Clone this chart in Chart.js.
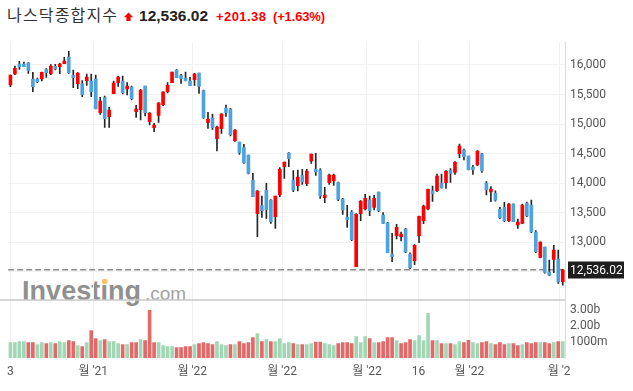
<!DOCTYPE html>
<html lang="ko">
<head>
<meta charset="utf-8">
<title>나스닥종합지수</title>
<script src="https://cdn.jsdelivr.net/npm/chart.js@4.4.1/dist/chart.umd.min.js"></script>
<style>
  html, body { margin: 0; padding: 0; background: #fff; }
  #wrap { position: relative; width: 633px; height: 391px; overflow: hidden; }
  #deco, #chart { position: absolute; left: 0; top: 0; }
</style>
</head>
<body>
<div id="wrap">
  <svg id="deco" width="633" height="391" xmlns="http://www.w3.org/2000/svg">
    <g id="hdr"></g>
    <g id="logo" opacity="0.9">
      <text x="22" y="300" font-family="'Liberation Sans', Arial, sans-serif" font-size="27" font-weight="bold" fill="#858585" textLength="119">Investing</text>
      <rect x="102" y="279" width="5.5" height="5" rx="1.5" fill="#f6be5e"></rect>
      <text x="145" y="300" font-family="'Liberation Sans', Arial, sans-serif" font-size="19" fill="#999">.com</text>
    </g>
  </svg>
  <canvas id="chart" width="633" height="391"></canvas>
</div>
<script>
// ---- header values ----
const indexName = '나스닥종합지수';
const lastPrice = 12536.02;
const change = 201.38;
const changePct = 1.63;

// ---- daily OHLC ----
const opens = [
  15662, 15848, 16017, 16017, 16034, 15763, 15763, 15763, 15921, 15853,
  15977, 15972, 16023, 16135, 15831, 15684, 15684, 15735, 15729, 15763,
  15194, 15447, 15126, 15515, 15701, 15729, 15594, 15628, 15210, 15244,
  15645, 15041, 14940, 15148, 15329, 15549, 15701, 15915, 15820, 15780,
  15729, 15752, 15865, 15566, 15024, 15103, 14754, 14928, 15272, 15255,
  14720, 14697, 14601, 14477, 14054, 13485, 13620, 13879, 13716, 13434,
  13800, 14280, 14511, 14054, 13958, 14127, 13992, 14375, 14240, 14223,
  13755, 14009, 14037, 14009, 13732, 13428, 13512, 12587, 13484, 13563,
  13715, 13591, 13851, 13462, 13326, 12802, 13112, 13095, 13225, 12802,
  12689, 13112, 13366, 13563, 13873, 13873, 14003, 14009, 14212, 14183,
  14499, 14561, 14460, 14274, 14308, 14499, 14003, 13851, 13834, 13557,
  13591, 13360, 13646, 13296, 13321, 13665, 13631, 13174, 12745, 12920,
  12497, 12711, 12717, 12334.64
];
const highs = [
  15831, 15983, 16062, 16051, 16039, 15876, 15780, 15882, 15938, 16006,
  16011, 16028, 16130, 16231, 15915, 15870, 15735, 15848, 15848, 15831,
  15453, 15476, 15284, 15729, 15808, 15814, 15701, 15645, 15318, 15588,
  15645, 15194, 15013, 15363, 15549, 15701, 15882, 15921, 15842, 15882,
  15791, 15859, 15865, 15577, 15199, 15171, 14968, 15177, 15323, 15267,
  14906, 14697, 14658, 14477, 14167, 13874, 13783, 13998, 13721, 13783,
  14263, 14359, 14517, 14212, 14223, 14234, 14234, 14494, 14505, 14246,
  13930, 14155, 14155, 14020, 13744, 13625, 13535, 13484, 13704, 13811,
  13783, 13794, 13851, 13501, 13337, 13151, 13304, 13174, 13236, 12824,
  12960, 13445, 13631, 13902, 13952, 14155, 14155, 14212, 14246, 14364,
  14663, 14578, 14460, 14302, 14550, 14505, 14026, 13941, 13873, 13591,
  13676, 13659, 13653, 13394, 13646, 13682, 13715, 13197, 13010, 12920,
  12700, 12948, 12869, 12542
];
const lows = [
  15633, 15836, 15927, 15972, 15859, 15549, 15701, 15729, 15791, 15836,
  15915, 15853, 16023, 15859, 15616, 15600, 15464, 15656, 15464, 15255,
  15165, 14945, 14945, 15515, 15639, 15509, 15492, 15408, 15115, 15069,
  15137, 14985, 14872, 15030, 15312, 15526, 15701, 15786, 15690, 15729,
  15650, 15656, 15521, 15098, 14928, 14911, 14545, 14844, 15131, 14799,
  14708, 14489, 14336, 14156, 13772, 13095, 13423, 13406, 13321, 13237,
  13772, 14082, 14280, 13856, 13868, 13980, 13958, 14336, 14133, 13744,
  13670, 13980, 13964, 13704, 13473, 13253, 13027, 12587, 13366, 13546,
  13450, 13546, 13518, 13321, 12824, 12672, 13056, 13022, 12824, 12554,
  12621, 12994, 13315, 13546, 13693, 13856, 13918, 13913, 14014, 14150,
  14432, 14392, 14223, 14150, 14296, 14184, 13800, 13687, 13698, 13399,
  13349, 13349, 13349, 13236, 13315, 13433, 13163, 12824, 12734, 12480,
  12435, 12486, 12305, 12277
];
const closes = [
  15831, 15944, 15972, 15972, 15904, 15633, 15718, 15876, 15870, 15983,
  15932, 16017, 16068, 15870, 15786, 15865, 15498, 15797, 15549, 15261,
  15391, 15092, 15239, 15695, 15797, 15532, 15645, 15430, 15255, 15577,
  15194, 15188, 14985, 15357, 15543, 15656, 15882, 15786, 15769, 15735,
  15650, 15848, 15639, 15109, 15086, 14940, 14951, 15171, 15194, 14821,
  14900, 14517, 14348, 14167, 13772, 13868, 13535, 13552, 13349, 13783,
  14235, 14359, 14415, 13885, 14105, 14020, 14206, 14494, 14189, 13783,
  13800, 14138, 14138, 13727, 13546, 13383, 13044, 13473, 13698, 13744,
  13535, 13744, 13535, 13321, 12824, 12757, 13253, 13140, 12836, 12570,
  12948, 13439, 13614, 13896, 13823, 14121, 13924, 14200, 14167, 14353,
  14629, 14449, 14229, 14229, 14544, 14206, 13890, 13902, 13715, 13416,
  13366, 13646, 13349, 13341, 13631, 13445, 13174, 12841, 13005, 12491,
  12446, 12869, 12328, 12536.02
];
// volume, billions of shares
const volumes = [
  0.96, 0.96, 1.03, 1.03, 0.96, 0.96, 0.84, 0.96, 0.90, 0.96,
  0.90, 1.03, 0.96, 1.09, 1.03, 0.78, 0.71, 0.96, 1.72, 1.22,
  1.09, 1.15, 1.03, 1.03, 0.90, 0.84, 0.84, 0.96, 0.96, 1.15,
  1.09, 2.98, 0.96, 0.96, 0.78, 0.71, 0.71, 0.65, 0.65, 0.71,
  0.71, 0.84, 0.90, 0.96, 0.90, 0.84, 1.03, 0.84, 0.78, 0.84,
  0.84, 1.03, 0.90, 0.96, 1.28, 1.53, 1.03, 1.15, 1.03, 1.03,
  1.22, 0.90, 0.96, 0.90, 0.84, 0.84, 0.84, 0.90, 1.00, 1.00,
  0.90, 0.84, 0.78, 0.90, 0.96, 0.96, 0.90, 1.34, 0.96, 1.34,
  1.22, 0.96, 0.96, 1.03, 1.28, 1.28, 1.09, 0.90, 0.96, 1.15,
  1.09, 1.40, 1.09, 2.80, 1.09, 1.09, 0.90, 0.90, 0.90, 0.84,
  1.03, 0.96, 1.10, 0.96, 0.90, 0.96, 1.03, 0.90, 0.84, 0.96,
  0.84, 0.90, 0.90, 0.78, 0.84, 0.96, 0.90, 0.96, 0.96, 0.96,
  0.90, 0.96, 1.03, 1.03
];

// ---- axis ticks ----
const xTickPos = [0, 18.45, 40.5, 60.5, 79.4, 90.9, 102.2, 122.2];
const xTickLabels = ['3', "월 '21", "월 '22", "월 '22", "월 '22", '16', "월 '22", "월 '2"];
const priceTicks = [12500, 13000, 13500, 14000, 14500, 15000, 15500, 16000];
const volTicks = [1, 2, 3];
const volTickLabels = ['1000m', '2.00b', '3.00b'];

(function () {
  'use strict';

  const UP = '#ff0000';
  const DOWN = '#4ea3dc';
  const VOL_UP = '#a2d7b5';
  const VOL_DOWN = '#e36868';
  const FONT = 'Roboto, "Noto Sans CJK KR", sans-serif';

  // === Header (svg text) ===
  const fmt = (v, d) => v.toLocaleString('en-US', { minimumFractionDigits: d, maximumFractionDigits: d });
  const hdr = document.getElementById('hdr');
  hdr.innerHTML =
    '<text x="7" y="21" font-family="\'Noto Sans CJK KR\', sans-serif" font-size="16" fill="#333" textLength="110">' + indexName + '</text>' +
    '<path d="M128.5 12.5 L133.2 17.2 L130.6 17.2 L130.6 21 L126.4 21 L126.4 17.2 L123.8 17.2 Z" fill="' + UP + '"/>' +
    '<text x="139" y="20.7" font-family="\'Liberation Sans\', Arial, sans-serif" font-size="15.5" font-weight="bold" fill="#222" textLength="69">' + fmt(lastPrice, 2) + '</text>' +
    '<text x="216" y="20.5" font-family="\'Liberation Sans\', Arial, sans-serif" font-size="13" font-weight="bold" fill="' + UP + '" textLength="50">+' + fmt(change, 2) + '</text>' +
    '<text x="273" y="20.5" font-family="\'Liberation Sans\', Arial, sans-serif" font-size="13" font-weight="bold" fill="' + UP + '" textLength="52">(+' + fmt(changePct, 2) + '%)</text>';

  // === Data for the library ===
  const idx = closes.map((_, i) => i);
  const bodies = idx.map(i => ({ x: i, y: [opens[i], closes[i]] }));
  const wicks = idx.map(i => ({ x: i, y: [lows[i], highs[i]] }));
  const vols = idx.map(i => ({ x: i, y: volumes[i] }));
  const bodyColors = idx.map(i => closes[i] >= opens[i] ? UP : DOWN);
  const volColors = idx.map(i => (i === 0 || closes[i] >= closes[i - 1]) ? VOL_UP : VOL_DOWN);

  // === Extras: pane separator, last price line and label ===
  const extras = {
    id: 'extras',
    beforeDatasetsDraw(chart) {
      const { ctx, chartArea } = chart;
      const y = chart.scales.y.getPixelForValue(lastPrice);
      ctx.save();
      ctx.strokeStyle = '#8c8c8c';
      ctx.lineWidth = 1.5;
      ctx.setLineDash([6, 3]);
      ctx.beginPath();
      ctx.moveTo(chartArea.left, y);
      ctx.lineTo(chartArea.right, y);
      ctx.stroke();
      ctx.restore();
    },
    afterDraw(chart) {
      const { ctx, chartArea } = chart;
      const yv = chart.scales.yv;
      ctx.save();
      ctx.strokeStyle = '#c8c8c8';
      ctx.lineWidth = 1.5;
      ctx.beginPath();
      ctx.moveTo(0, yv.top);
      ctx.lineTo(chartArea.right, yv.top);
      ctx.stroke();

      const y = chart.scales.y.getPixelForValue(lastPrice);
      ctx.fillStyle = '#1e1e1e';
      ctx.fillRect(chartArea.right + 3, Math.round(y) - 8.5, 56, 17);
      ctx.fillStyle = '#fff';
      ctx.font = '12px Roboto';
      ctx.textBaseline = 'middle';
      ctx.fillText(fmt(lastPrice, 2), chartArea.right + 5, Math.round(y) + 0.5);
      ctx.restore();
    }
  };

  const tickFont = { family: FONT, size: 12 };

  new Chart(document.getElementById('chart'), {
    type: 'bar',
    data: {
      datasets: [
        {
          label: 'body', data: bodies, yAxisID: 'y',
          backgroundColor: bodyColors, barThickness: 3, grouped: false, order: 0
        },
        {
          label: 'wick', data: wicks, yAxisID: 'y',
          backgroundColor: '#262626', barThickness: 1, grouped: false, order: 1
        },
        {
          label: 'volume', data: vols, yAxisID: 'yv',
          backgroundColor: volColors, barThickness: 3, grouped: false, order: 2
        }
      ]
    },
    options: {
      responsive: false,
      animation: false,
      layout: { padding: { left: 7, top: 42, right: 0, bottom: 0 } },
      plugins: { legend: { display: false }, tooltip: { enabled: false } },
      scales: {
        x: {
          type: 'linear',
          min: -0.5,
          max: closes.length - 0.5,
          offset: false,
          grid: { color: '#f1f1f1', drawTicks: false, offset: false },
          border: { display: false },
          afterBuildTicks: s => { s.ticks = xTickPos.map(v => ({ value: v })); },
          afterFit: s => { s.height = 33; },
          ticks: {
            autoSkip: false, maxRotation: 0, padding: 7,
            color: '#555', font: tickFont,
            callback: (v, i) => xTickLabels[i]
          }
        },
        y: {
          type: 'linear',
          position: 'right',
          stack: 'panes',
          stackWeight: 258,
          min: 12024,
          max: 16389,
          beginAtZero: false,
          grid: { color: '#f1f1f1', drawTicks: false },
          border: { color: '#dcdcdc' },
          afterBuildTicks: s => { s.ticks = priceTicks.map(v => ({ value: v })); },
          afterFit: s => { s.width = 68; },
          ticks: {
            autoSkip: false, padding: 5, color: '#555', font: tickFont,
            callback: v => v === 12500 ? '' : v.toLocaleString('en-US')
          }
        },
        yv: {
          type: 'linear',
          position: 'right',
          stack: 'panes',
          stackWeight: 58,
          min: 0,
          max: 3.63,
          grid: { display: false, drawTicks: false },
          border: { color: '#dcdcdc' },
          afterBuildTicks: s => { s.ticks = volTicks.map(v => ({ value: v })); },
          afterFit: s => { s.width = 68; },
          ticks: {
            autoSkip: false, padding: 5, color: '#555', font: tickFont,
            callback: (v, i) => volTickLabels[i]
          }
        }
      }
    },
    plugins: [extras]
  });
})();
</script>
</body>
</html>
